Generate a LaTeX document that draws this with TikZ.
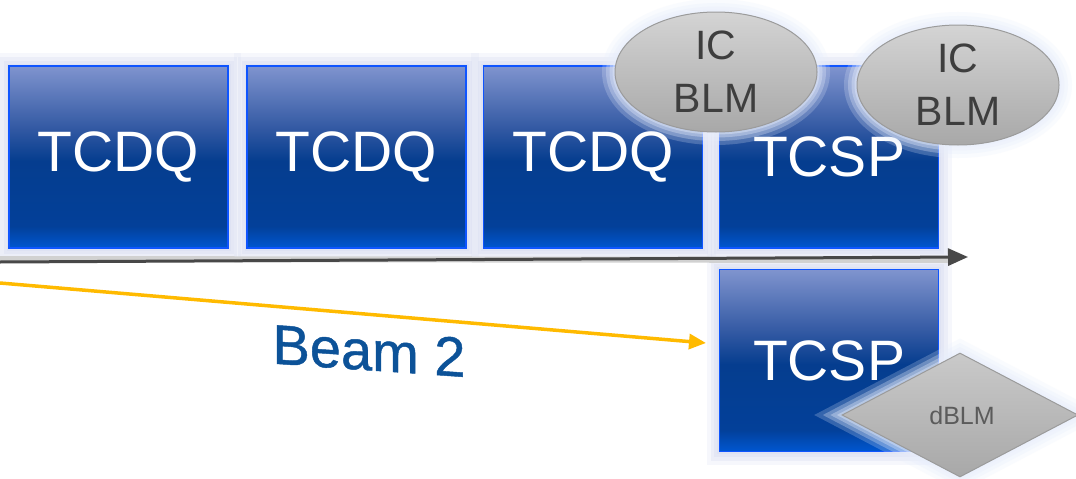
\documentclass[tikz,border=0pt]{standalone}
\usepackage{fontspec}
\setmainfont{Liberation Sans}
\newfontfamily\beamfont[FakeBold=0.8]{Liberation Sans}
\usetikzlibrary{shapes.geometric,arrows.meta}

\definecolor{boxEdge}{RGB}{15,85,255}
\definecolor{haloBlue}{RGB}{215,220,242}
\definecolor{haloPale}{RGB}{232,238,252}
\definecolor{blmTop}{RGB}{212,212,212}
\definecolor{blmBot}{RGB}{168,168,168}
\definecolor{blmEdge}{RGB}{155,155,155}
\definecolor{blmText}{RGB}{62,62,62}
\definecolor{axisGray}{RGB}{72,72,72}
\definecolor{beamGold}{RGB}{255,186,0}
\definecolor{beamBlue}{RGB}{12,82,152}

% magnet body: pale top, dark blue core, brighter blue foot
% (the path is fitted to the band 25bp--75bp of the shading)
\pgfdeclareverticalshading{magnetshade}{100bp}{%
  rgb(0bp)=(0,0.34,0.82);
  rgb(25bp)=(0,0.34,0.82);
  rgb(31bp)=(0.01,0.25,0.60);
  rgb(49bp)=(0.02,0.24,0.56);
  rgb(58bp)=(0.20,0.35,0.64);
  rgb(75bp)=(0.50,0.58,0.81);
  rgb(100bp)=(0.50,0.58,0.81)}

\tikzset{
  halo/.style={
    preaction={draw=#1, draw opacity=0.22, line width=26pt},
    preaction={draw=#1, draw opacity=0.3, line width=18pt},
    preaction={draw=#1, draw opacity=0.35, line width=11pt},
    preaction={draw=#1, draw opacity=0.4, line width=5pt}},
  magnet/.style={rectangle, minimum width=219pt, minimum height=182pt,
    inner sep=0pt, halo=haloBlue, shading=magnetshade,
    draw=boxEdge, line width=1.8pt, text=white,
    font=\fontsize{57}{60}\selectfont},
  blm/.style={ellipse, minimum width=202pt, minimum height=120pt,
    inner sep=0pt, halo=haloPale, top color=blmTop, bottom color=blmBot,
    draw=blmEdge, line width=1pt},
  blmlabel/.style={align=center, inner sep=0pt, text=blmText,
    font=\fontsize{41}{53}\selectfont},
  dblm/.style={diamond, minimum width=236pt, minimum height=124pt,
    inner sep=0pt, halo=haloPale, top color=blmTop!95!black,
    bottom color=blmBot, draw=blmEdge, line width=1pt},
  axis/.style={draw=axisGray, line width=3pt,
    -{Triangle[length=20pt,width=17pt]}},
  axisshadow/.style={draw=black!18, line width=6pt},
  beam/.style={draw=beamGold, line width=3.5pt,
    -{Triangle[length=17pt,width=15pt]}},
  beamlabel/.style={text=beamBlue, inner sep=0pt,
    font=\beamfont\fontsize{56}{60}\selectfont},
}

\begin{document}
\begin{tikzpicture}[x=1pt,y=-1pt]
\clip (0,0) rectangle (1076,479);
\fill[white] (0,0) rectangle (1076,479);

% collimator magnets along the line
\node[magnet] (q1) at (118.5,157) {TCDQ};
\node[magnet] (q2) at (356.5,157) {TCDQ};
\node[magnet] (q3) at (593,157) {TCDQ};
\node[magnet] (p1) at (829,157) {TCSP};
\node[magnet] (p2) at (829,360.5) {TCSP};

% beam axis with a soft shadow
\coordinate (axL) at (0,262);
\coordinate (axR) at (968,257);
\coordinate (axS) at (950,260);
\draw[axisshadow] ([yshift=3pt]axL) -- (axS);
\draw[axis] (axL) -- (axR);

% beam 2 trajectory
\coordinate (bmL) at (0,283);
\coordinate (bmR) at (706,343);
\draw[beam] (bmL) -- (bmR);
\node[beamlabel, transform shape, yslant=-0.07] (b2) at (369,351) {Beam 2};

% ionisation chamber loss monitors
\node[blm] (ic1) at (716,72) {};
\node[blmlabel] (ic1t) at (ic1.center) {IC\\BLM};
\node[blm] (ic2) at (958,85) {};
\node[blmlabel] (ic2t) at (ic2.center) {IC\\BLM};

% diamond loss monitor
\node[dblm] (d1) at (960,415) {};
\node[text=blmText!85!white, font=\fontsize{25}{28}\selectfont, inner sep=0pt]
  (d1t) at (962,416) {dBLM};
\end{tikzpicture}
\end{document}
